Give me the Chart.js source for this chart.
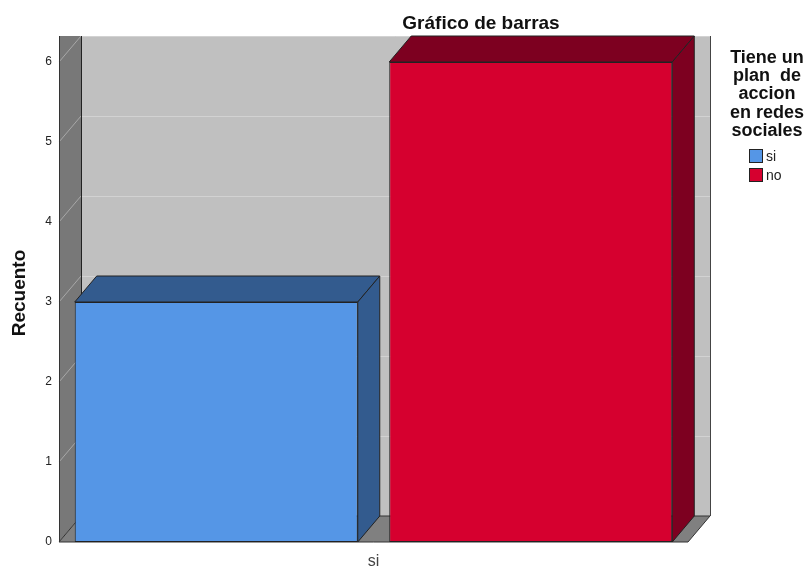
<!DOCTYPE html>
<html>
<head>
<meta charset="utf-8">
<script src="https://cdn.jsdelivr.net/npm/chart.js@4.4.1/dist/chart.umd.min.js"></script>
<style>
  html, body { margin: 0; padding: 0; background: #fff; }
</style>
</head>
<body>
<canvas id="chartBarras" width="806" height="567"></canvas>
<script>
(function () {
  'use strict';

  // data
  var CATEGORIES = ['si'];
  var SERIES_LABELS = ['si', 'no'];
  var SERIES_SI = [3];
  var SERIES_NO = [6];
  var Y_TICKS = [0, 1, 2, 3, 4, 5, 6];
  var TITLE = 'Gráfico de barras';
  var Y_TITLE = 'Recuento';
  var LEGEND_TITLE = ['Tiene un', 'plan  de', 'accion', 'en redes', 'sociales'];

  var FONT = "'Liberation Sans', Arial, sans-serif";

  // SPSS-like palette
  var C = {
    blue: '#5596e6',
    blueDark: '#335b8e',
    red: '#d6002f',
    redDark: '#7d0020',
    wall: '#c0c0c0',
    side: '#787878',
    floor: '#808080',
    grid: '#d2d2d2',
    edge: '#222'
  };

  // depth of the pseudo 3D box
  var DX = 22, DY = -26;

  function poly(ctx, pts, fill, stroke) {
    ctx.beginPath();
    ctx.moveTo(pts[0][0], pts[0][1]);
    for (var i = 1; i < pts.length; i++) ctx.lineTo(pts[i][0], pts[i][1]);
    ctx.closePath();
    if (fill) { ctx.fillStyle = fill; ctx.fill(); }
    if (stroke) { ctx.strokeStyle = stroke; ctx.lineWidth = 1; ctx.stroke(); }
  }

  function line(ctx, x0, y0, x1, y1, color) {
    ctx.beginPath();
    ctx.moveTo(x0, y0);
    ctx.lineTo(x1, y1);
    ctx.strokeStyle = color;
    ctx.lineWidth = 1;
    ctx.stroke();
  }

  var box3d = {
    id: 'box3d',
    beforeDatasetsDraw: function (chart) {
      var ctx = chart.ctx, a = chart.chartArea, ys = chart.scales.y;
      var L = a.left, R = a.right, T = a.top, B = a.bottom;
      ctx.save();
      // back wall
      ctx.fillStyle = C.wall;
      ctx.fillRect(L + DX, T + DY, R - L, B - T);
      Y_TICKS.forEach(function (v) {
        if (v === 0) return;
        var y = Math.round(ys.getPixelForValue(v)) + 0.5;
        line(ctx, L + DX, y + DY, R + DX, y + DY, C.grid);
      });
      line(ctx, R + DX + 0.5, T + DY, R + DX + 0.5, B + DY, '#444');
      // left wall
      poly(ctx, [[L, B], [L + DX, B + DY], [L + DX, T + DY], [L, T + DY]], C.side, null);
      Y_TICKS.forEach(function (v) {
        if (v === 0) return;
        var y = ys.getPixelForValue(v);
        line(ctx, L, y, L + DX, y + DY, '#a8a8a8');
      });
      line(ctx, L + 0.5, T + DY, L + 0.5, B, '#333');
      line(ctx, L + DX + 0.5, T + DY, L + DX + 0.5, B + DY, C.edge);
      // floor
      poly(ctx, [[L, B], [R, B], [R + DX, B + DY], [L + DX, B + DY]], C.floor, '#333');
      ctx.restore();
    },
    afterDatasetsDraw: function (chart) {
      var ctx = chart.ctx;
      var darks = [C.blueDark, C.redDark];
      ctx.save();
      chart.data.datasets.forEach(function (ds, i) {
        chart.getDatasetMeta(i).data.forEach(function (el) {
          var x0 = el.x - el.width / 2, x1 = el.x + el.width / 2;
          var y = el.y, b = el.base;
          poly(ctx, [[x0, y], [x0 + DX, y + DY], [x1 + DX, y + DY], [x1, y]], darks[i], C.edge);
          poly(ctx, [[x1, y], [x1 + DX, y + DY], [x1 + DX, b + DY], [x1, b]], darks[i], C.edge);
        });
      });
      ctx.restore();
    },
    afterDraw: function (chart) {
      var ctx = chart.ctx;
      ctx.save();
      ctx.fillStyle = '#111';
      ctx.textAlign = 'center';
      ctx.textBaseline = 'alphabetic';
      // title
      ctx.font = 'bold 19px ' + FONT;
      ctx.fillText(TITLE, 481, 29);
      // y axis title
      ctx.save();
      ctx.translate(25, 293);
      ctx.rotate(-Math.PI / 2);
      ctx.font = 'bold 19px ' + FONT;
      ctx.fillText(Y_TITLE, 0, 0);
      ctx.restore();
      // legend
      ctx.font = 'bold 18px ' + FONT;
      LEGEND_TITLE.forEach(function (t, k) {
        ctx.fillText(t, 767, 63 + k * 18.2);
      });
      ctx.font = '14px ' + FONT;
      ctx.textAlign = 'left';
      ctx.textBaseline = 'middle';
      chart.data.datasets.forEach(function (ds, i) {
        var y = 149 + i * 19;
        ctx.fillStyle = ds.backgroundColor;
        ctx.fillRect(749.5, y + 0.5, 13, 13);
        ctx.strokeStyle = C.edge;
        ctx.lineWidth = 1;
        ctx.strokeRect(749.5, y + 0.5, 13, 13);
        ctx.fillStyle = '#222';
        ctx.fillText(ds.label, 766, y + 8);
      });
      ctx.restore();
    }
  };

  new Chart(document.getElementById('chartBarras').getContext('2d'), {
    type: 'bar',
    data: {
      labels: CATEGORIES,
      datasets: [
        {
          label: SERIES_LABELS[0],
          data: SERIES_SI,
          backgroundColor: C.blue,
          borderColor: C.edge,
          borderWidth: 1,
          borderSkipped: false
        },
        {
          label: SERIES_LABELS[1],
          data: SERIES_NO,
          backgroundColor: C.red,
          borderColor: C.edge,
          borderWidth: 1,
          borderSkipped: false
        }
      ]
    },
    options: {
      responsive: false,
      animation: false,
      categoryPercentage: 1,
      barPercentage: 0.9,
      layout: { padding: { top: 62, right: 118, left: 0, bottom: 0 } },
      plugins: {
        legend: { display: false },
        title: { display: false },
        tooltip: { enabled: false }
      },
      scales: {
        x: {
          grid: { display: false, drawTicks: false },
          border: { display: false },
          ticks: { color: '#444', font: { family: FONT, size: 16 }, padding: 10 },
          afterFit: function (s) { s.height = 25; }
        },
        y: {
          min: 0,
          max: 6,
          grid: { display: false, drawTicks: false },
          border: { display: false },
          afterBuildTicks: function (s) {
            s.ticks = Y_TICKS.map(function (v) { return { value: v }; });
          },
          ticks: { color: '#222', font: { family: FONT, size: 12 }, padding: 7 },
          afterFit: function (s) { s.width = 59; }
        }
      }
    },
    plugins: [box3d]
  });
})();
</script>
</body>
</html>
